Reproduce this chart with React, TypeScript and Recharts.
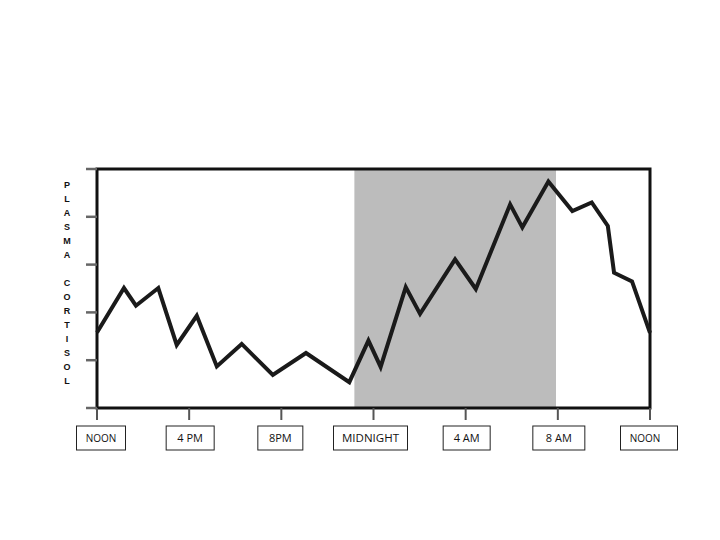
import React from "react";
import { LineChart, Line, XAxis, YAxis, ReferenceArea } from "recharts";

// hours after noon
const hours = [0, 1.17, 1.69, 2.66, 3.46, 4.33, 5.2, 6.28, 7.63, 9.07, 10.95, 11.78, 12.31, 13.4, 14.02, 15.54, 16.44, 17.93, 18.46, 19.59, 20.63, 21.47, 22.17, 22.44, 23.22, 24];
const cortisol = [1.58, 2.51, 2.14, 2.51, 1.32, 1.93, 0.87, 1.34, 0.69, 1.15, 0.54, 1.41, 0.86, 2.53, 1.97, 3.11, 2.49, 4.26, 3.78, 4.74, 4.12, 4.3, 3.81, 2.83, 2.65, 1.57];

const xTicks = [0, 4, 8, 12, 16, 20, 24];
const xTickLabels = ["NOON", "4 PM", "8PM", "MIDNIGHT", "4 AM", "8 AM", "NOON"];
const yTicks = [0, 1, 2, 3, 4, 5];
const sleepStart = 11.17;
const sleepEnd = 19.92;
const axisTitle = ["P", "L", "A", "S", "M", "A", "", "C", "O", "R", "T", "I", "S", "O", "L"];

const data = hours.map((h, i) => ({ h, v: cortisol[i] }));

// label box look, by tick index
const boxW = [49, 48, 45, 74, 47, 52, 57];
const boxDx = [4, 1, -1, -3, 1, 1, -1];
const textDx = [0, 0, 0, 0, 0, 0, -4];
const boxFont = [10, 11, 11, 11.5, 11, 11, 10];

const XTick = (props: any) => {
  const { x, y, payload } = props;
  const i = xTicks.indexOf(payload.value);
  const w = boxW[i];
  const cx = x + boxDx[i];
  const top = y + 4;
  return (
    <g>
      <rect x={cx - w / 2} y={top} width={w} height={24} fill="#fff" stroke="#222" strokeWidth={1} />
      <text x={cx + textDx[i]} y={top + 16} textAnchor="middle" fontSize={boxFont[i]} fontFamily="'Open Sans', 'Liberation Sans', sans-serif" fill="#111">
        {xTickLabels[i]}
      </text>
    </g>
  );
};

const YTitle = () => (
  <g>
    {axisTitle.map((c, i) => (
      <text key={i} x={67} y={188 + i * 14} textAnchor="middle" fontSize={9} fontWeight="bold" fontFamily="'Liberation Sans', Arial, sans-serif" fill="#111">
        {c}
      </text>
    ))}
  </g>
);

export default function App() {
  return (
    <div style={{ position: "absolute", left: 0, top: 0, background: "#fff" }}>
      <LineChart width={720} height={540} data={data} margin={{ top: 169, right: 70, left: 57, bottom: 72 }}>
        <XAxis
          dataKey="h"
          type="number"
          domain={[0, 24]}
          ticks={xTicks}
          axisLine={false}
          tickSize={12}
          tickLine={{ stroke: "#555", strokeWidth: 2 }}
          tick={<XTick />}
          height={60}
          interval={0}
        />
        <YAxis
          type="number"
          domain={[0, 5]}
          ticks={yTicks}
          width={40}
          axisLine={false}
          tickSize={11}
          tickLine={{ stroke: "#666", strokeWidth: 2.5 }}
          tickFormatter={() => ""}
          label={{ content: () => <YTitle /> }}
        />
        <ReferenceArea x1={sleepStart} x2={sleepEnd} y1={0} y2={5} fill="#bcbcbc" fillOpacity={1} stroke="none" />
        <Line type="linear" dataKey="v" stroke="#1a1a1a" strokeWidth={4} dot={false} strokeLinejoin="miter" isAnimationActive={false} />
        <ReferenceArea x1={0} x2={24} y1={0} y2={5} fill="none" stroke="#111" strokeWidth={3} />
      </LineChart>
    </div>
  );
}
